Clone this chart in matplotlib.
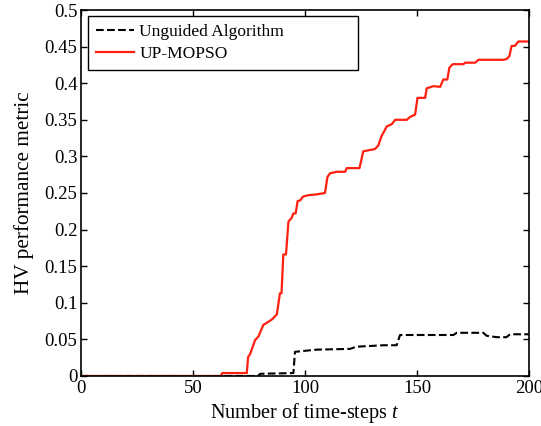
import matplotlib.pyplot as plt

plt.rcParams['font.family'] = ['Liberation Serif', 'DejaVu Serif']
plt.rcParams['mathtext.fontset'] = 'custom'
plt.rcParams['mathtext.rm'] = 'Liberation Serif'
plt.rcParams['mathtext.it'] = 'Liberation Serif:italic'

# unguided algorithm (dashed black)
t_unguided = [0, 79, 80, 94.8, 95.5, 105.2, 120, 123, 135, 140.9, 142.4, 166.2, 167.7,
              179.6, 181, 185.6, 189.9, 191.5, 200]
hv_unguided = [0, 0, 0.003, 0.004, 0.033, 0.036, 0.037, 0.04, 0.042, 0.042, 0.056, 0.056, 0.059,
               0.059, 0.055, 0.053, 0.053, 0.057, 0.057]

# UP-MOPSO (solid red)
t_upmopso = [0, 62.5, 63, 74, 74.6, 75.5, 77.7, 79.2, 81.4, 82.1, 85.1, 87.4, 88.8, 89.5,
             90.3, 91.5, 92.6, 94, 94.8, 95.8, 96.7, 97.9, 99, 101.4, 104.9, 108.9, 110,
             111.2, 114.2, 117.9, 118.6, 124.3, 126, 131.2, 132.7, 134.2, 136.5, 138.7,
             140.2, 145.4, 146.9, 149.1, 150.2, 153.6, 154.3, 157.3, 160.3, 161.7, 163.5,
             164.4, 165.9, 170.7, 171.4, 175.9, 177.4, 188.5, 190, 191.2, 192.2, 193.7,
             195.2, 200]
hv_upmopso = [0, 0, 0.004, 0.004, 0.026, 0.03, 0.049, 0.054, 0.07, 0.071, 0.077, 0.084, 0.113,
              0.113, 0.166, 0.166, 0.211, 0.216, 0.222, 0.222, 0.239, 0.24, 0.245, 0.247,
              0.248, 0.25, 0.272, 0.277, 0.279, 0.279, 0.284, 0.284, 0.307, 0.31, 0.315,
              0.328, 0.341, 0.344, 0.35, 0.35, 0.354, 0.357, 0.38, 0.38, 0.393, 0.396, 0.395,
              0.405, 0.405, 0.421, 0.426, 0.426, 0.428, 0.428, 0.432, 0.432, 0.433, 0.437,
              0.451, 0.451, 0.457, 0.457]

xticks = [0, 50, 100, 150, 200]
yticks = [0, 0.05, 0.1, 0.15, 0.2, 0.25, 0.3, 0.35, 0.4, 0.45, 0.5]
ytick_labels = ['0', '0.05', '0.1', '0.15', '0.2', '0.25', '0.3', '0.35', '0.4', '0.45', '0.5']

fig = plt.figure(figsize=(5.41, 4.26), dpi=100)
ax = fig.add_axes([0.1497, 0.1174, 0.8283, 0.8591])

ax.plot(t_unguided, hv_unguided, 'k--', lw=1.5, label='Unguided Algorithm')
ax.plot(t_upmopso, hv_upmopso, color='#ff2010', lw=1.6, label='UP-MOPSO')

ax.set_xlim(0, 200)
ax.set_ylim(0, 0.5)
ax.set_xticks(xticks)
ax.set_yticks(yticks)
ax.set_yticklabels(ytick_labels)
ax.tick_params(direction='in', top=True, right=True, length=4, width=1, labelsize=13.5)
ax.tick_params(axis='y', pad=2.5)
ax.tick_params(axis='x', pad=3)
for s in ax.spines.values():
    s.set_linewidth(1.2)

ax.set_xlabel('Number of time-steps $t$', fontsize=14.6, labelpad=2.5)
ax.set_ylabel('HV performance metric', fontsize=15.3, labelpad=8)

leg = ax.legend(loc='upper left', bbox_to_anchor=(0.0156, 0.0, 0.602, 0.984),
                mode='expand', fontsize=12.5, fancybox=False, edgecolor='black',
                framealpha=1, handlelength=2.2, handletextpad=0.3, borderaxespad=0,
                borderpad=0.45, labelspacing=0.35)
leg.get_frame().set_linewidth(1.0)

fig.savefig('out.png', dpi=100)
